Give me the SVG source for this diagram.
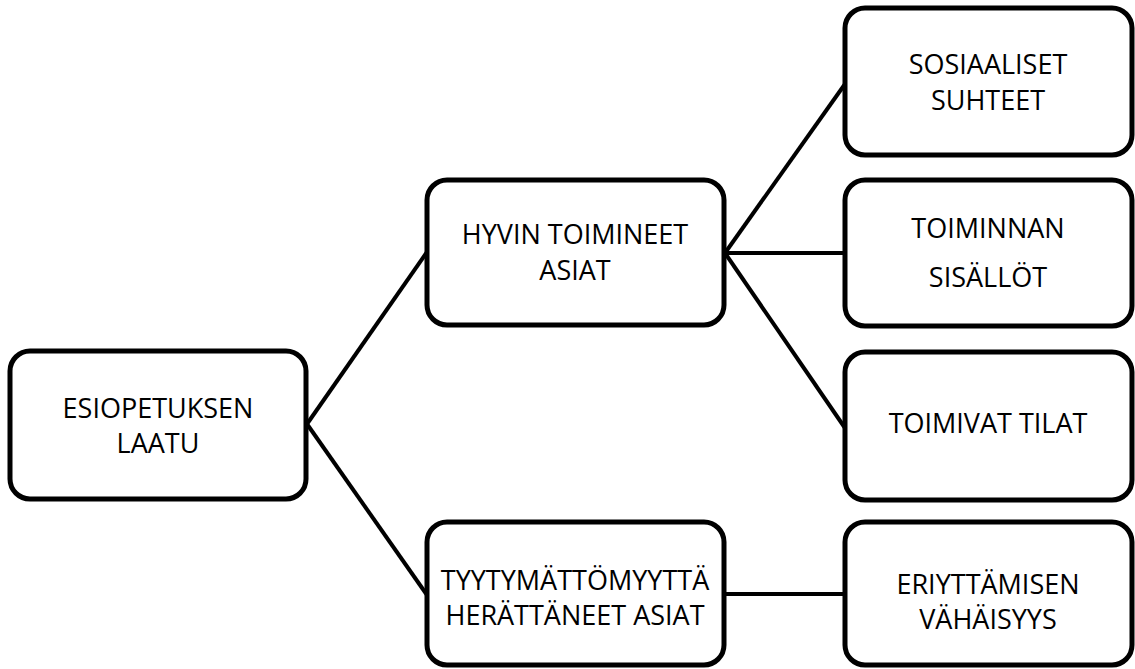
<svg xmlns="http://www.w3.org/2000/svg" width="1135" height="669" viewBox="0 0 1135 669">
  <style>
    .box { fill: #ffffff; stroke: #000000; stroke-width: 5; }
    .link { stroke: #000000; stroke-width: 4; fill: none; }
    .label { font-family: "Open Sans", "Noto Sans", "Liberation Sans", sans-serif; font-size: 27px; fill: #000000; text-anchor: middle; }
  </style>
  <rect width="1135" height="669" fill="#ffffff"/>

  <g id="connectors">
    <line class="link" x1="307" y1="424" x2="427" y2="252"/>
    <line class="link" x1="307" y1="424" x2="427" y2="595"/>
    <line class="link" x1="725" y1="253" x2="845" y2="84"/>
    <line class="link" x1="725" y1="253" x2="845" y2="253"/>
    <line class="link" x1="725" y1="253" x2="845" y2="428"/>
    <line class="link" x1="725" y1="594" x2="845" y2="594"/>
  </g>

  <g id="esiopetuksen-laatu">
    <rect class="box" x="10" y="351" width="296" height="148" rx="20"/>
    <text class="label" x="158" y="418">ESIOPETUKSEN</text>
    <text class="label" x="158" y="453">LAATU</text>
  </g>

  <g id="hyvin-toimineet">
    <rect class="box" x="427" y="180" width="297" height="145" rx="20"/>
    <text class="label" x="575" y="244">HYVIN TOIMINEET</text>
    <text class="label" x="575" y="280">ASIAT</text>
  </g>

  <g id="tyytymattomyytta">
    <rect class="box" x="427" y="522" width="297" height="143" rx="20"/>
    <text class="label" x="575" y="590">TYYTYMÄTTÖMYYTTÄ</text>
    <text class="label" x="575" y="625">HERÄTTÄNEET ASIAT</text>
  </g>

  <g id="sosiaaliset-suhteet">
    <rect class="box" x="845" y="8" width="287" height="147" rx="20"/>
    <text class="label" x="988" y="74">SOSIAALISET</text>
    <text class="label" x="988" y="110">SUHTEET</text>
  </g>

  <g id="toiminnan-sisallot">
    <rect class="box" x="845" y="180" width="287" height="146" rx="20"/>
    <text class="label" x="988" y="238">TOIMINNAN</text>
    <text class="label" x="988" y="287">SISÄLLÖT</text>
  </g>

  <g id="toimivat-tilat">
    <rect class="box" x="845" y="352" width="287" height="148" rx="20"/>
    <text class="label" x="988" y="433">TOIMIVAT TILAT</text>
  </g>

  <g id="eriyttamisen-vahaisyys">
    <rect class="box" x="845" y="522" width="287" height="143" rx="20"/>
    <text class="label" x="988" y="594">ERIYTTÄMISEN</text>
    <text class="label" x="988" y="629">VÄHÄISYYS</text>
  </g>
</svg>
